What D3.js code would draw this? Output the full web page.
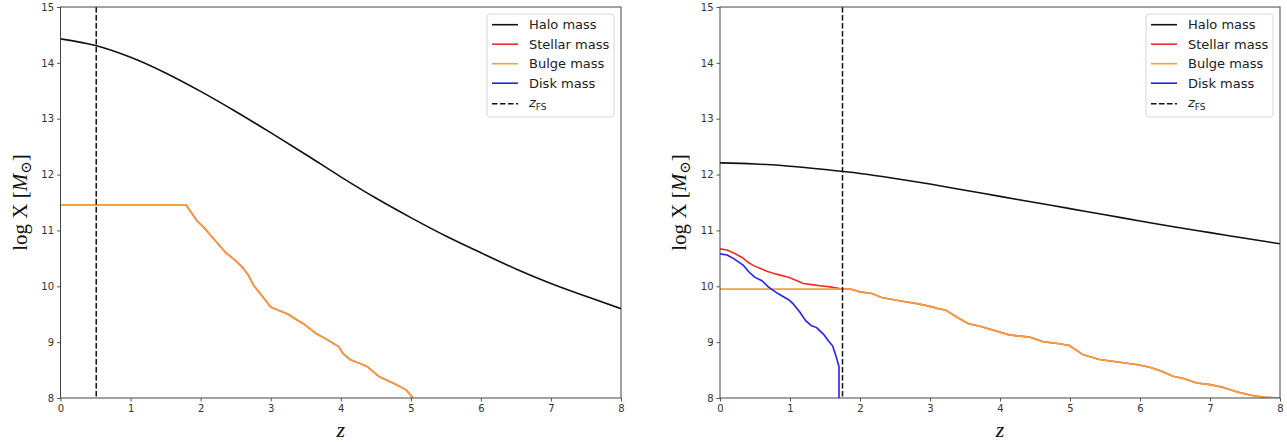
<!DOCTYPE html>
<html>
<head>
<meta charset="utf-8">
<script src="https://cdn.jsdelivr.net/npm/d3@7"></script>
<style>
  html, body { margin: 0; padding: 0; background: #fff; }
  svg { display: block; }
  .tick text { font-family: "DejaVu Sans", sans-serif; font-size: 10px; fill: #333; }
  .leg text { font-family: "DejaVu Sans", sans-serif; font-size: 13px; fill: #222; }
</style>
</head>
<body>
<svg id="chart" width="1287" height="442"></svg>
<script>
// ---- data: log mass (solar units) against redshift z ----
const xTicks = [0, 1, 2, 3, 4, 5, 6, 7, 8];
const yTicks = [8, 9, 10, 11, 12, 13, 14, 15];
const seriesNames = ["Halo mass", "Stellar mass", "Bulge mass", "Disk mass"];

const haloZ = [0, 0.5, 1, 1.5, 2, 2.5, 3, 3.5, 4, 4.5, 5, 5.5, 6, 6.5, 7, 7.5, 8];

// panel A (left)
const haloA = [14.43, 14.31, 14.10, 13.82, 13.49, 13.13, 12.75, 12.36, 11.96, 11.58, 11.23, 10.90, 10.60, 10.31, 10.05, 9.82, 9.60];
const bulgeAz = [0, 1.79, 1.95, 2.05, 2.20, 2.36, 2.49, 2.61, 2.68, 2.76, 2.87, 3.00, 3.13, 3.25, 3.36, 3.48, 3.64, 3.80, 3.97, 4.03, 4.13, 4.27, 4.38, 4.55, 4.76, 4.93, 5.03, 5.08];
const bulgeA  = [11.46, 11.46, 11.17, 11.05, 10.83, 10.60, 10.47, 10.32, 10.20, 10.01, 9.84, 9.63, 9.56, 9.50, 9.41, 9.32, 9.16, 9.05, 8.92, 8.80, 8.69, 8.62, 8.56, 8.38, 8.26, 8.15, 8.00, 7.90];
const stellarAz = bulgeAz;
const stellarA  = bulgeA;
const zFsA = 0.51;

// panel B (right)
const haloB = [12.21, 12.19, 12.15, 12.09, 12.02, 11.93, 11.83, 11.72, 11.61, 11.50, 11.39, 11.28, 11.17, 11.06, 10.96, 10.86, 10.76];
const bulgeBz = [0, 1.86, 2.00, 2.17, 2.31, 2.48, 2.67, 2.86, 3.00, 3.12, 3.23, 3.38, 3.55, 3.70, 3.86, 4.13, 4.42, 4.61, 4.85, 4.99, 5.18, 5.42, 5.71, 5.95, 6.14, 6.31, 6.47, 6.62, 6.81, 7.00, 7.19, 7.38, 7.62, 7.81, 8.00];
const bulgeB  = [9.95, 9.95, 9.90, 9.87, 9.80, 9.76, 9.72, 9.68, 9.64, 9.60, 9.57, 9.45, 9.33, 9.29, 9.23, 9.13, 9.09, 9.01, 8.97, 8.94, 8.78, 8.69, 8.64, 8.60, 8.55, 8.48, 8.39, 8.35, 8.27, 8.24, 8.19, 8.11, 8.04, 8.01, 8.00];
const stellarBz = [0, 0.10, 0.19, 0.31, 0.39, 0.48, 0.58, 0.67, 0.77, 0.86, 0.98, 1.10, 1.19, 1.31, 1.43, 1.57, 1.67, 1.74, 1.86];
const stellarB  = [10.67, 10.65, 10.60, 10.52, 10.44, 10.37, 10.32, 10.27, 10.23, 10.20, 10.16, 10.10, 10.05, 10.03, 10.01, 9.99, 9.97, 9.95, 9.95];
const diskBz = [0, 0.10, 0.19, 0.33, 0.41, 0.50, 0.60, 0.69, 0.79, 0.87, 0.98, 1.05, 1.14, 1.22, 1.30, 1.38, 1.48, 1.55, 1.61, 1.66, 1.70, 1.70];
const diskB  = [10.58, 10.56, 10.50, 10.38, 10.26, 10.16, 10.10, 9.99, 9.90, 9.84, 9.76, 9.68, 9.54, 9.39, 9.30, 9.26, 9.14, 9.02, 8.93, 8.74, 8.56, 7.50];
const zFsB = 1.75;

const colors = { halo: "#111111", stellar: "#ee2e26", bulge: "#f4a03e", disk: "#2222ee" };

const svg = d3.select("#chart");
const plotTop = 7, plotBottom = 398;

function zip(zs, vs) { return zs.map((z, i) => [z, vs[i]]); }

function panel(id, left, right, lines, zFs) {
  const x = d3.scaleLinear().domain([0, 8]).range([left, right]);
  const y = d3.scaleLinear().domain([8, 15]).range([plotBottom, plotTop]);
  const g = svg.append("g");

  g.append("clipPath").attr("id", "clip" + id)
    .append("rect").attr("x", left).attr("y", plotTop).attr("width", right - left).attr("height", plotBottom - plotTop);

  const plot = g.append("g").attr("clip-path", `url(#clip${id})`);
  lines.forEach(s => {
    const line = d3.line().x(d => x(d[0])).y(d => y(d[1]))
      .curve(s.smooth ? d3.curveMonotoneX : d3.curveLinear);
    plot.append("path").datum(s.pts)
      .attr("d", line).attr("fill", "none")
      .attr("stroke", s.color).attr("stroke-width", 1.6)
      .attr("stroke-linejoin", "round");
  });
  plot.append("line")
    .attr("x1", x(zFs)).attr("x2", x(zFs)).attr("y1", y(15)).attr("y2", y(8))
    .attr("stroke", "#111").attr("stroke-width", 1.5).attr("stroke-dasharray", "5.5,2.5");

  // axes
  const ax = g.append("g").attr("transform", `translate(0,${plotBottom})`)
    .call(d3.axisBottom(x).tickValues(xTicks).tickFormat(d3.format("d")).tickSizeOuter(0).tickSize(3.5).tickPadding(3));
  const ay = g.append("g").attr("transform", `translate(${left},0)`)
    .call(d3.axisLeft(y).tickValues(yTicks).tickFormat(d3.format("d")).tickSizeOuter(0).tickSize(3.5).tickPadding(3));
  [ax, ay].forEach(a => {
    a.select(".domain").remove();
    a.selectAll(".tick line").attr("stroke", "#444").attr("stroke-width", 0.9);
  });

  // frame
  g.append("rect").attr("x", left).attr("y", plotTop).attr("width", right - left).attr("height", plotBottom - plotTop)
    .attr("fill", "none").attr("stroke", "#444").attr("stroke-width", 1);

  // axis titles
  g.append("text")
    .attr("x", (left + right) / 2).attr("y", 437)
    .attr("text-anchor", "middle")
    .style("font-family", "'Liberation Serif', 'DejaVu Serif', serif")
    .style("font-style", "italic").style("font-size", "22px").attr("fill", "#111")
    .text("z");

  const yl = g.append("text")
    .attr("transform", `translate(${left - 34},${(plotTop + plotBottom) / 2}) rotate(-90)`)
    .attr("text-anchor", "middle")
    .style("font-family", "'Liberation Serif', 'DejaVu Serif', serif")
    .style("font-size", "21px").attr("fill", "#111");
  yl.append("tspan").text("log X [");
  yl.append("tspan").style("font-style", "italic").text("M");
  yl.append("tspan").attr("dy", 4).style("font-size", "15px").text("⊙");
  yl.append("tspan").attr("dy", -4).text("]");

  // legend
  const lx = right - 134, ly = 14;
  const leg = g.append("g").attr("class", "leg");
  leg.append("rect").attr("x", lx).attr("y", ly).attr("width", 127).attr("height", 103)
    .attr("rx", 3).attr("fill", "#fff").attr("fill-opacity", 0.85)
    .attr("stroke", "#d6d6d6").attr("stroke-width", 1);
  const legColors = [colors.halo, colors.stellar, colors.bulge, colors.disk];
  seriesNames.forEach((name, i) => {
    const cy = ly + 10.7 + i * 19.5;
    leg.append("line").attr("x1", lx + 5).attr("x2", lx + 31).attr("y1", cy).attr("y2", cy)
      .attr("stroke", legColors[i]).attr("stroke-width", 1.6);
    leg.append("text").attr("x", lx + 42).attr("y", cy + 4.6).text(name);
  });
  const cy = ly + 10.7 + 4 * 19.5 + 1;
  leg.append("line").attr("x1", lx + 5).attr("x2", lx + 31).attr("y1", cy).attr("y2", cy)
    .attr("stroke", "#111").attr("stroke-width", 1.5).attr("stroke-dasharray", "5.5,2.5");
  const zt = leg.append("text").attr("x", lx + 42).attr("y", cy + 3);
  zt.append("tspan").style("font-style", "italic").text("z");
  zt.append("tspan").attr("dy", 3).style("font-size", "9px").text("FS");
}

panel("A", 60.5, 621, [
  { color: colors.halo, smooth: true, pts: zip(haloZ, haloA) },
  { color: colors.stellar, pts: zip(stellarAz, stellarA) },
  { color: colors.bulge, pts: zip(bulgeAz, bulgeA) }
], zFsA);

panel("B", 720, 1280, [
  { color: colors.halo, smooth: true, pts: zip(haloZ, haloB) },
  { color: colors.stellar, pts: zip(stellarBz, stellarB).concat(zip(bulgeBz.slice(2), bulgeB.slice(2))) },
  { color: colors.bulge, pts: zip(bulgeBz, bulgeB) },
  { color: colors.disk, pts: zip(diskBz, diskB) }
], zFsB);
</script>
</body>
</html>
